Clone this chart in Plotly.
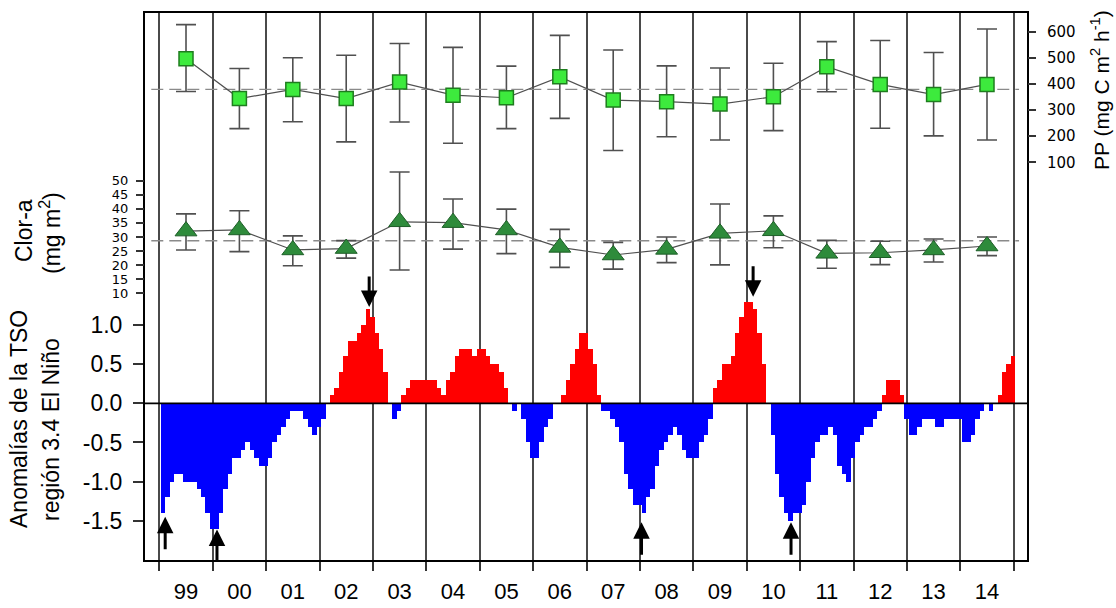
import plotly.graph_objects as go

# ---------------- data ----------------
years = ["99", "00", "01", "02", "03", "04", "05", "06",
         "07", "08", "09", "10", "11", "12", "13", "14"]

# Primary production (mg C m^2 h^-1): mean, upper and lower error bar ends
pp_mean = [496, 344, 379, 344, 407, 357, 347, 427,
           338, 332, 323, 351, 466, 398, 359, 398]
pp_upper = [627, 459, 500, 510, 555, 540, 468, 586,
            530, 469, 461, 479, 562, 566, 520, 610]
pp_lower = [371, 229, 255, 178, 254, 173, 229, 268,
            145, 198, 185, 221, 370, 230, 201, 185]

# Chlorophyll-a (mg m^2)
chl_mean = [32.1, 32.5, 25.4, 25.9, 35.4, 35.1, 32.5, 26.3,
            23.6, 25.6, 31.3, 32.2, 24.2, 24.4, 25.4, 26.8]
chl_upper = [38.2, 39.3, 30.4, 28.7, 53.1, 43.5, 39.9, 32.7,
             28.1, 30.0, 41.7, 37.5, 28.8, 28.5, 29.3, 30.0]
chl_lower = [25.4, 24.8, 19.8, 22.5, 18.3, 25.7, 24.1, 19.2,
             18.6, 20.9, 20.1, 26.2, 18.9, 20.2, 21.1, 23.4]

# Monthly SST anomalies, Nino 3.4 region (Jan 1999 - Dec 2014)
sst_anom = [
    -1.4, -1.2, -1.0, -0.9, -0.9, -1.0, -1.0, -1.0, -1.1, -1.2, -1.4, -1.6,  # 1999
    -1.6, -1.4, -1.1, -0.9, -0.7, -0.7, -0.6, -0.5, -0.6, -0.7, -0.8, -0.8,  # 2000
    -0.7, -0.5, -0.4, -0.3, -0.2, -0.1, -0.1, -0.1, -0.2, -0.3, -0.4, -0.3,  # 2001
    -0.2, 0.0, 0.1, 0.2, 0.4, 0.6, 0.8, 0.8, 0.9, 1.0, 1.2, 1.1,            # 2002
    0.9, 0.7, 0.4, 0.0, -0.2, -0.1, 0.1, 0.2, 0.3, 0.3, 0.3, 0.3,           # 2003
    0.3, 0.3, 0.2, 0.1, 0.3, 0.4, 0.6, 0.7, 0.7, 0.7, 0.6, 0.7,             # 2004
    0.7, 0.6, 0.5, 0.5, 0.4, 0.2, 0.0, -0.1, 0.0, -0.2, -0.5, -0.7,         # 2005
    -0.7, -0.5, -0.3, -0.2, 0.0, 0.0, 0.1, 0.3, 0.5, 0.7, 0.9, 0.9,         # 2006
    0.7, 0.5, 0.1, -0.1, -0.1, -0.2, -0.3, -0.5, -0.9, -1.1, -1.3, -1.3,    # 2007
    -1.4, -1.2, -1.1, -0.8, -0.6, -0.5, -0.4, -0.3, -0.4, -0.6, -0.7, -0.7, # 2008
    -0.7, -0.5, -0.4, -0.2, 0.2, 0.3, 0.5, 0.5, 0.6, 0.9, 1.1, 1.3,         # 2009
    1.3, 1.2, 0.9, 0.5, 0.0, -0.4, -0.9, -1.2, -1.4, -1.5, -1.4, -1.4,      # 2010
    -1.3, -1.0, -0.7, -0.5, -0.4, -0.4, -0.3, -0.4, -0.8, -0.9, -1.0, -0.7, # 2011
    -0.5, -0.4, -0.3, -0.3, -0.2, -0.1, 0.1, 0.3, 0.3, 0.3, 0.1, -0.2,      # 2012
    -0.4, -0.4, -0.3, -0.2, -0.2, -0.2, -0.3, -0.3, -0.2, -0.2, -0.2, -0.2, # 2013
    -0.5, -0.5, -0.4, -0.2, -0.1, 0.0, -0.1, 0.0, 0.1, 0.4, 0.5, 0.6,       # 2014
]

# arrows marking extremes: (position in years since Jan 1999, anomaly, direction)
arrow_pos = [0.11, 1.08, 3.93, 9.03, 11.12, 11.83]
arrow_val = [-1.45, -1.61, 1.23, -1.52, 1.36, -1.52]
arrow_dir = ["up", "up", "down", "up", "down", "up"]

tick_sst = [-1.5, -1.0, -0.5, 0.0, 0.5, 1.0]
tick_chl = [10, 15, 20, 25, 30, 35, 40, 45, 50]
tick_pp = [100, 200, 300, 400, 500, 600]

# ---------------- figure ----------------
FONT = "Liberation Sans, Arial, sans-serif"
FONT_W = "DejaVu Sans, Verdana, sans-serif"
GRAY = "#505050"

n_years = len(years)
year_mid = [i + 0.5 for i in range(n_years)]
month_x = [i / 12 + 0.5 / 12 + 0.03 for i in range(len(sst_anom))]
bar_colors = ["#ff0000" if v >= 0 else "#0000ff" for v in sst_anom]

fig = go.Figure()

fig.add_trace(go.Bar(
    x=month_x, y=sst_anom, width=1 / 12,
    marker=dict(color=bar_colors, line=dict(width=0)),
    xaxis="x", yaxis="y", showlegend=False, hoverinfo="skip"))

pp_avg = sum(pp_mean) / len(pp_mean)
chl_avg = sum(chl_mean) / len(chl_mean)

fig.add_trace(go.Scatter(
    x=[-0.15, n_years + 0.1], y=[pp_avg, pp_avg], mode="lines",
    line=dict(color="#8a8a8a", width=1.3, dash="12px,6px"),
    yaxis="y3", showlegend=False, hoverinfo="skip"))
fig.add_trace(go.Scatter(
    x=[-0.15, n_years + 0.1], y=[chl_avg, chl_avg], mode="lines",
    line=dict(color="#8a8a8a", width=1.3, dash="12px,6px"),
    yaxis="y2", showlegend=False, hoverinfo="skip"))

fig.add_trace(go.Scatter(
    x=year_mid, y=pp_mean, mode="lines+markers", yaxis="y3",
    line=dict(color=GRAY, width=1.2),
    marker=dict(symbol="square", size=14, color="#3dea3d",
                line=dict(color="#1e7d1e", width=1.5)),
    error_y=dict(type="data", symmetric=False,
                 array=[u - m for u, m in zip(pp_upper, pp_mean)],
                 arrayminus=[m - l for m, l in zip(pp_mean, pp_lower)],
                 color=GRAY, thickness=1.6, width=10),
    showlegend=False))

fig.add_trace(go.Scatter(
    x=year_mid, y=chl_mean, mode="lines+markers", yaxis="y2",
    line=dict(color=GRAY, width=1.2),
    marker=dict(symbol="triangle-up", size=19, color="#2e8b3b",
                line=dict(color="#1d5e27", width=1)),
    error_y=dict(type="data", symmetric=False,
                 array=[u - m for u, m in zip(chl_upper, chl_mean)],
                 arrayminus=[m - l for m, l in zip(chl_mean, chl_lower)],
                 color=GRAY, thickness=1.6, width=10),
    showlegend=False))

annotations = []
for xp, yv, d in zip(arrow_pos, arrow_val, arrow_dir):
    annotations.append(dict(
        x=xp, y=yv, xref="x", yref="y", text="", showarrow=True,
        ax=0, ay=(34 if d == "up" else -32),
        arrowhead=2, arrowsize=1.1, arrowwidth=3, arrowcolor="black"))

def ytitle(text, px, py, size=23):
    return dict(text=text, xref="paper", yref="paper",
                x=(px - 145) / 882, y=(560 - py) / 547,
                xanchor="center", yanchor="middle", textangle=-90,
                showarrow=False, font=dict(family=FONT, size=size, color="black"))

annotations += [
    ytitle("PP (mg C m<sup>2</sup> h<sup>-1</sup>)", 1100, 90, 21),
    ytitle("Clor-a", 24, 231),
    ytitle("(mg m<sup>2</sup>)", 50, 233),
    ytitle("Anomalías de la TSO", 19, 419),
    ytitle("región 3.4 El Niño", 51, 430),
]

fig.update_layout(
    width=1116, height=608,
    margin=dict(l=145, r=89, t=13, b=48, autoexpand=False),
    paper_bgcolor="white", plot_bgcolor="white",
    barmode="overlay", bargap=0,
    showlegend=False,
    annotations=annotations,
    shapes=[dict(type="line", xref="paper", yref="y", x0=0, x1=1, y0=0, y1=0,
                 line=dict(color="black", width=1.8), layer="above")],
    xaxis=dict(
        range=[-0.268, 16.249], automargin=False,
        tickvals=year_mid, ticktext=years, ticks="",
        tickfont=dict(family=FONT, size=22, color="black"),
        ticklabelstandoff=11,
        showgrid=False, zeroline=False,
        showline=True, linecolor="black", linewidth=2, mirror=True,
        minor=dict(tick0=0, dtick=1, ticks="outside", ticklen=9,
                   tickwidth=1.5, tickcolor="#333333",
                   showgrid=True, gridcolor="#4a4a4a", gridwidth=1.6),
    ),
    yaxis=dict(
        range=[-2.001, 4.985], automargin=False,
        tickvals=tick_sst, ticktext=[f"{v:.1f}" for v in tick_sst],
        ticks="outside", ticklen=10, tickwidth=1.5, tickcolor="#333333",
        tickfont=dict(family=FONT, size=23, color="black"),
        ticklabelstandoff=6,
        showgrid=False, zeroline=False,
        showline=True, linecolor="black", linewidth=2, mirror=True,
    ),
    yaxis2=dict(
        overlaying="y", side="left", anchor="x", automargin=False,
        range=[-84.74, 109.57],
        tickvals=tick_chl, ticks="outside", ticklen=8, tickwidth=1.5,
        tickcolor="#333333",
        tickfont=dict(family=FONT_W, size=13, color="black"),
        ticklabelstandoff=5,
        showgrid=False, zeroline=False, showline=False,
    ),
    yaxis3=dict(
        overlaying="y", side="right", anchor="x", automargin=False,
        range=[-1422.7, 671.5],
        tickvals=tick_pp, ticks="outside", ticklen=8, tickwidth=1.5,
        tickcolor="#333333",
        tickfont=dict(family=FONT_W, size=15, color="black"),
        ticklabelstandoff=8,
        showgrid=False, zeroline=False, showline=False,
    ),
)

fig.write_html("out.html")
